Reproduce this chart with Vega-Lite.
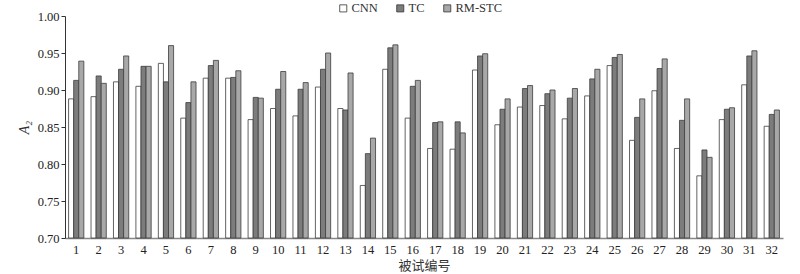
{
  "$schema": "https://vega.github.io/schema/vega-lite/v6.json",
  "width": 718,
  "height": 222,
  "autosize": {"type": "none"},
  "padding": {"left": 65, "top": 16, "right": 17, "bottom": 36},
  "background": "white",
  "config": {"view": {"stroke": null}, "font": "Liberation Serif"},
  "data": {"values": [
    {"s": 1, "m": "CNN", "v": 0.888}, {"s": 1, "m": "TC", "v": 0.913}, {"s": 1, "m": "RM-STC", "v": 0.939},
    {"s": 2, "m": "CNN", "v": 0.891}, {"s": 2, "m": "TC", "v": 0.919}, {"s": 2, "m": "RM-STC", "v": 0.909},
    {"s": 3, "m": "CNN", "v": 0.911}, {"s": 3, "m": "TC", "v": 0.928}, {"s": 3, "m": "RM-STC", "v": 0.946},
    {"s": 4, "m": "CNN", "v": 0.905}, {"s": 4, "m": "TC", "v": 0.932}, {"s": 4, "m": "RM-STC", "v": 0.932},
    {"s": 5, "m": "CNN", "v": 0.936}, {"s": 5, "m": "TC", "v": 0.911}, {"s": 5, "m": "RM-STC", "v": 0.960},
    {"s": 6, "m": "CNN", "v": 0.862}, {"s": 6, "m": "TC", "v": 0.883}, {"s": 6, "m": "RM-STC", "v": 0.911},
    {"s": 7, "m": "CNN", "v": 0.916}, {"s": 7, "m": "TC", "v": 0.933}, {"s": 7, "m": "RM-STC", "v": 0.940},
    {"s": 8, "m": "CNN", "v": 0.916}, {"s": 8, "m": "TC", "v": 0.917}, {"s": 8, "m": "RM-STC", "v": 0.926},
    {"s": 9, "m": "CNN", "v": 0.860}, {"s": 9, "m": "TC", "v": 0.890}, {"s": 9, "m": "RM-STC", "v": 0.889},
    {"s": 10, "m": "CNN", "v": 0.875}, {"s": 10, "m": "TC", "v": 0.901}, {"s": 10, "m": "RM-STC", "v": 0.925},
    {"s": 11, "m": "CNN", "v": 0.865}, {"s": 11, "m": "TC", "v": 0.901}, {"s": 11, "m": "RM-STC", "v": 0.910},
    {"s": 12, "m": "CNN", "v": 0.904}, {"s": 12, "m": "TC", "v": 0.928}, {"s": 12, "m": "RM-STC", "v": 0.950},
    {"s": 13, "m": "CNN", "v": 0.875}, {"s": 13, "m": "TC", "v": 0.873}, {"s": 13, "m": "RM-STC", "v": 0.923},
    {"s": 14, "m": "CNN", "v": 0.771}, {"s": 14, "m": "TC", "v": 0.814}, {"s": 14, "m": "RM-STC", "v": 0.835},
    {"s": 15, "m": "CNN", "v": 0.928}, {"s": 15, "m": "TC", "v": 0.957}, {"s": 15, "m": "RM-STC", "v": 0.961},
    {"s": 16, "m": "CNN", "v": 0.862}, {"s": 16, "m": "TC", "v": 0.905}, {"s": 16, "m": "RM-STC", "v": 0.913},
    {"s": 17, "m": "CNN", "v": 0.821}, {"s": 17, "m": "TC", "v": 0.856}, {"s": 17, "m": "RM-STC", "v": 0.857},
    {"s": 18, "m": "CNN", "v": 0.820}, {"s": 18, "m": "TC", "v": 0.857}, {"s": 18, "m": "RM-STC", "v": 0.842},
    {"s": 19, "m": "CNN", "v": 0.927}, {"s": 19, "m": "TC", "v": 0.946}, {"s": 19, "m": "RM-STC", "v": 0.949},
    {"s": 20, "m": "CNN", "v": 0.853}, {"s": 20, "m": "TC", "v": 0.874}, {"s": 20, "m": "RM-STC", "v": 0.888},
    {"s": 21, "m": "CNN", "v": 0.877}, {"s": 21, "m": "TC", "v": 0.902}, {"s": 21, "m": "RM-STC", "v": 0.906},
    {"s": 22, "m": "CNN", "v": 0.879}, {"s": 22, "m": "TC", "v": 0.895}, {"s": 22, "m": "RM-STC", "v": 0.900},
    {"s": 23, "m": "CNN", "v": 0.861}, {"s": 23, "m": "TC", "v": 0.889}, {"s": 23, "m": "RM-STC", "v": 0.902},
    {"s": 24, "m": "CNN", "v": 0.892}, {"s": 24, "m": "TC", "v": 0.915}, {"s": 24, "m": "RM-STC", "v": 0.928},
    {"s": 25, "m": "CNN", "v": 0.933}, {"s": 25, "m": "TC", "v": 0.944}, {"s": 25, "m": "RM-STC", "v": 0.948},
    {"s": 26, "m": "CNN", "v": 0.832}, {"s": 26, "m": "TC", "v": 0.863}, {"s": 26, "m": "RM-STC", "v": 0.888},
    {"s": 27, "m": "CNN", "v": 0.899}, {"s": 27, "m": "TC", "v": 0.929}, {"s": 27, "m": "RM-STC", "v": 0.942},
    {"s": 28, "m": "CNN", "v": 0.821}, {"s": 28, "m": "TC", "v": 0.859}, {"s": 28, "m": "RM-STC", "v": 0.888},
    {"s": 29, "m": "CNN", "v": 0.784}, {"s": 29, "m": "TC", "v": 0.819}, {"s": 29, "m": "RM-STC", "v": 0.809},
    {"s": 30, "m": "CNN", "v": 0.860}, {"s": 30, "m": "TC", "v": 0.874}, {"s": 30, "m": "RM-STC", "v": 0.876},
    {"s": 31, "m": "CNN", "v": 0.907}, {"s": 31, "m": "TC", "v": 0.946}, {"s": 31, "m": "RM-STC", "v": 0.953},
    {"s": 32, "m": "CNN", "v": 0.851}, {"s": 32, "m": "TC", "v": 0.867}, {"s": 32, "m": "RM-STC", "v": 0.873}
  ]},
  "mark": {"type": "bar", "stroke": "#3c3c3c", "strokeWidth": 0.8},
  "encoding": {
    "x": {
      "field": "s", "type": "ordinal",
      "scale": {"paddingInner": 0.32, "paddingOuter": 0.16},
      "axis": {
        "labelAngle": 0, "ticks": false, "labelPadding": 5, "labelFontSize": 12.5, "labelColor": "#222",
        "domainColor": "#888", "domainWidth": 1.5,
        "title": "被试编号", "titleFont": "Noto Sans CJK SC", "titleFontSize": 13, "titleFontWeight": "normal",
        "titleColor": "#333", "titlePadding": 4
      }
    },
    "xOffset": {"field": "m", "type": "nominal", "scale": {"domain": ["CNN", "TC", "RM-STC"]}},
    "y": {
      "field": "v", "type": "quantitative",
      "scale": {"domain": [0.7, 1.0], "zero": false, "nice": false},
      "axis": {
        "values": [0.7, 0.75, 0.8, 0.85, 0.9, 0.95, 1.0], "format": ".2f", "grid": false,
        "labelFontSize": 12.5, "labelColor": "#222", "tickSize": 4, "tickColor": "#333", "domainColor": "#333",
        "title": "A₂", "titleFontStyle": "italic", "titleFontWeight": "normal", "titleFontSize": 14,
        "titleColor": "#333", "titlePadding": 6
      }
    },
    "y2": {"datum": 0.7},
    "color": {
      "field": "m", "type": "nominal",
      "scale": {"domain": ["CNN", "TC", "RM-STC"], "range": ["#ffffff", "#7c7c7c", "#a8a8a8"]},
      "legend": {
        "orient": "none", "legendX": 272, "legendY": -14, "direction": "horizontal", "title": null,
        "symbolType": "square", "symbolSize": 50, "symbolStrokeColor": "#333", "symbolStrokeWidth": 0.8,
        "labelFontSize": 12.5, "labelFont": "Liberation Serif", "labelFontWeight": "normal", "labelColor": "#333",
        "columnPadding": 16, "labelOffset": 2, "symbolOpacity": 1
      }
    }
  }
}
